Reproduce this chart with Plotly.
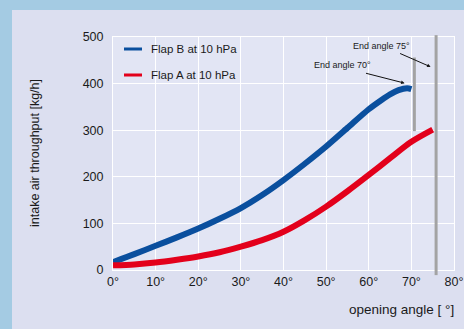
import plotly.graph_objects as go

# ---- data ----
flap_b_angle = [0, 5, 10, 15, 20, 25, 30, 35, 40, 45, 50, 55, 60, 63, 65, 67, 69, 70]
flap_b_flow = [17, 34, 52, 70, 89, 110, 133, 161, 193, 228, 265, 305, 345, 365, 377, 386, 390, 388]
flap_a_angle = [0, 5, 10, 15, 20, 25, 30, 35, 40, 45, 50, 55, 60, 65, 70, 75]
flap_a_flow = [10, 12, 16, 22, 29, 38, 50, 64, 82, 107, 136, 169, 204, 240, 275, 301]
series_names = ["Flap B at 10 hPa", "Flap A at 10 hPa"]
x_ticks = [0, 10, 20, 30, 40, 50, 60, 70, 80]
y_ticks = [0, 100, 200, 300, 400, 500]
end_angle_labels = ["End angle 70°", "End angle 75°"]
end_lines_x = [70.7, 75.8]

BLUE = "#0a4f9e"
RED = "#e3001b"
GRAY = "#a3a3a3"
FRAME = "#a4cbe3"
PANEL = "#dcdff0"
FONT = "Liberation Sans, Arial, sans-serif"

W, H = 464, 329
L, R, T, B = 113, 454, 37, 270


def px(x):
    return (x - L) / (R - L)


def py(y):
    return (B - y) / (B - T)


fig = go.Figure()
fig.add_trace(go.Scatter(x=flap_b_angle, y=flap_b_flow, mode="lines", name=series_names[0],
                         line=dict(color=BLUE, width=6, shape="spline", smoothing=0.8), showlegend=False))
fig.add_trace(go.Scatter(x=flap_a_angle, y=flap_a_flow, mode="lines", name=series_names[1],
                         line=dict(color=RED, width=6, shape="spline", smoothing=0.8), showlegend=False))

shapes = [
    # blue frame strips
    dict(type="rect", xref="paper", yref="paper", x0=px(0), x1=px(12), y0=py(H), y1=py(0),
         fillcolor=FRAME, line=dict(width=0), layer="above"),
    dict(type="rect", xref="paper", yref="paper", x0=px(0), x1=px(W), y0=py(10), y1=py(0),
         fillcolor=FRAME, line=dict(width=0), layer="above"),
    # end-angle lines
    dict(type="line", xref="x", yref="y", x0=end_lines_x[0], x1=end_lines_x[0], y0=298, y1=456,
         line=dict(color=GRAY, width=3)),
    dict(type="line", xref="x", yref="paper", x0=end_lines_x[1], x1=end_lines_x[1], y0=-0.022, y1=1.008,
         line=dict(color=GRAY, width=3)),
    # legend samples
    dict(type="line", xref="paper", yref="paper", x0=px(124), x1=px(142), y0=py(49), y1=py(49),
         line=dict(color=BLUE, width=3)),
    dict(type="line", xref="paper", yref="paper", x0=px(124), x1=px(142), y0=py(75), y1=py(75),
         line=dict(color=RED, width=3)),
]

annotations = [
    dict(xref="paper", yref="paper", x=px(149), y=py(49), text=series_names[0], showarrow=False,
         xanchor="left", yanchor="middle", font=dict(size=11.5, color="#1a1a1a", family=FONT)),
    dict(xref="paper", yref="paper", x=px(149), y=py(75), text=series_names[1], showarrow=False,
         xanchor="left", yanchor="middle", font=dict(size=11.5, color="#1a1a1a", family=FONT)),
    # end-angle labels
    dict(xref="x", yref="y", x=62.9, y=481, text=end_angle_labels[1], showarrow=False,
         font=dict(size=9, color="#1a1a1a", family=FONT)),
    dict(xref="x", yref="y", x=53.8, y=440, text=end_angle_labels[0], showarrow=False,
         font=dict(size=9, color="#1a1a1a", family=FONT)),
    dict(xref="x", yref="y", x=74.5, y=436, ax=67.0, ay=466, axref="x", ayref="y", text="",
         showarrow=True, arrowhead=2, arrowsize=0.7, arrowwidth=1, arrowcolor="#111"),
    dict(xref="x", yref="y", x=68.4, y=401, ax=59.0, ay=423, axref="x", ayref="y", text="",
         showarrow=True, arrowhead=2, arrowsize=0.7, arrowwidth=1, arrowcolor="#111"),
    # axis titles
    dict(xref="paper", yref="paper", x=px(456), y=py(309), text="opening angle [ °]", showarrow=False,
         xanchor="right", yanchor="middle", font=dict(size=13.5, color="#1a1a1a", family=FONT)),
    dict(xref="paper", yref="paper", x=px(35), y=py(153), text="intake air throughput [kg/h]",
         showarrow=False, textangle=-90, xanchor="center", yanchor="middle",
         font=dict(size=12.5, color="#1a1a1a", family=FONT)),
]

fig.update_layout(
    width=W, height=H,
    margin=dict(l=L, r=W - R, t=T, b=H - B, pad=0, autoexpand=False),
    paper_bgcolor=PANEL,
    plot_bgcolor="#e2e5f4",
    font=dict(family=FONT, size=13, color="#1a1a1a"),
    shapes=shapes,
    annotations=annotations,
    showlegend=False,
)
fig.update_xaxes(range=[0, 80], tickvals=x_ticks, ticktext=[f"{v}°" for v in x_ticks],
                 showgrid=True, gridcolor="white", gridwidth=1, zeroline=False, automargin=False,
                 showline=True, linecolor="white", linewidth=1, mirror=True, ticks="",
                 tickfont=dict(size=12.5), fixedrange=True)
fig.update_yaxes(range=[0, 500], tickvals=y_ticks, showgrid=True, gridcolor="white", gridwidth=1,
                 zeroline=False, showline=True, linecolor="white", linewidth=1, mirror=True,
                 automargin=False, ticks="", ticklabelstandoff=6, tickfont=dict(size=12.5),
                 fixedrange=True)

fig.write_html("out.html", config={"displayModeBar": False},
               post_script="document.body.style.margin='0';document.body.style.overflow='hidden';")
